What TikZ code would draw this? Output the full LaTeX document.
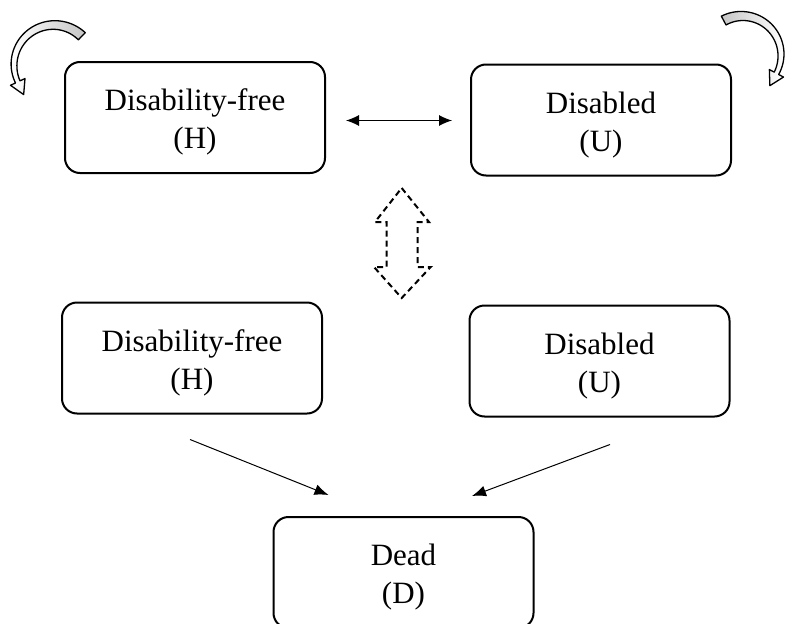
\documentclass[tikz,border=0pt]{standalone}
\usepackage{fontspec}
\setmainfont{Liberation Serif}
\usetikzlibrary{arrows.meta}

\newcommand{\lift}{\rule{0pt}{31pt}}
\tikzset{
    stage/.style = {draw, line width = 2pt, rounded corners = 15pt,
        minimum width = 260pt, minimum height = 111pt, inner sep = 0pt,
        align = center, font = \fontsize{31}{38}\selectfont},
    link/.style = {line width = 1pt, -{Latex[length = 14pt, width = 11pt]}},
    twoway/.style = {line width = 1pt,
        {Latex[length = 13pt, width = 11pt]}-{Latex[length = 13pt, width = 11pt]}},
    loopy/.style = {line width = 1.3pt, line join = round},
    swap/.style = {line width = 2pt, dash pattern = on 6pt off 4pt}
}

\begin{document}
\begin{tikzpicture}[x = 1pt, y = -1pt]
    \useasboundingbox (0,0) rectangle (785,624);
    % top row
    \node[stage] (h1) at (195,117.5) {\lift Disability-free\\(H)};
    \node[stage] (u1) at (601,120) {\lift Disabled\\(U)};
    \draw[twoway] ([xshift = 20pt, yshift = -3pt]h1.east) -- ([xshift = -18pt, yshift = -3pt]h1.east -| u1.west);
    % self loops
    \draw[loopy, left color = white, right color = gray!45]
        plot[domain = -46:-205, samples = 40] ({54+(42.5+2.5*(\x+205)/159)*cos(\x)}, {65+(42.5+2.5*(\x+205)/159)*sin(\x)})
        -- ({54+48*cos(-205)}, {65+48*sin(-205)})
        -- ({54+40*cos(-205)+14*sin(-205)}, {65+40*sin(-205)-14*cos(-205)})
        -- ({54+32*cos(-205)}, {65+32*sin(-205)})
        -- plot[domain = -205:-46, samples = 40] ({54+(37.5-2.5*(\x+205)/159)*cos(\x)}, {65+(37.5-2.5*(\x+205)/159)*sin(\x)})
        -- cycle;
    \draw[loopy, left color = gray!45, right color = white]
        plot[domain = -118:28, samples = 40] ({742+(44-2.5*(\x+118)/146)*cos(\x)}, {55+(44-2.5*(\x+118)/146)*sin(\x)})
        -- ({742+47*cos(28)}, {55+47*sin(28)})
        -- ({742+39*cos(28)-14*sin(28)}, {55+39*sin(28)+14*cos(28)})
        -- ({742+31*cos(28)}, {55+31*sin(28)})
        -- plot[domain = 28:-118, samples = 40] ({742+(34+2.5*(\x+118)/146)*cos(\x)}, {55+(34+2.5*(\x+118)/146)*sin(\x)})
        -- cycle;
    % dashed block arrow
    \draw[swap] (401.7,188) -- (429,222) -- (417.7,222) -- (417.7,267) -- (430.7,267)
        -- (401.7,298) -- (374,267) -- (386.7,267) -- (386.7,222) -- (375,222) -- cycle;
    % lower row
    \node[stage] (h2) at (192,358) {\lift Disability-free\\(H)};
    \node[stage] (u2) at (599.5,361) {\lift Disabled\\(U)};
    \node[stage] (d) at (403.5,572.5) {\lift Dead\\(D)};
    \draw[link] ([xshift = -2pt, yshift = -25pt]h2.south) -- ([xshift = -75pt, yshift = 21pt]d.north);
    \draw[link] ([xshift = 10.5pt, yshift = -27pt]u2.south) -- ([xshift = 68.5pt, yshift = 20pt]d.north);
\end{tikzpicture}
\end{document}
